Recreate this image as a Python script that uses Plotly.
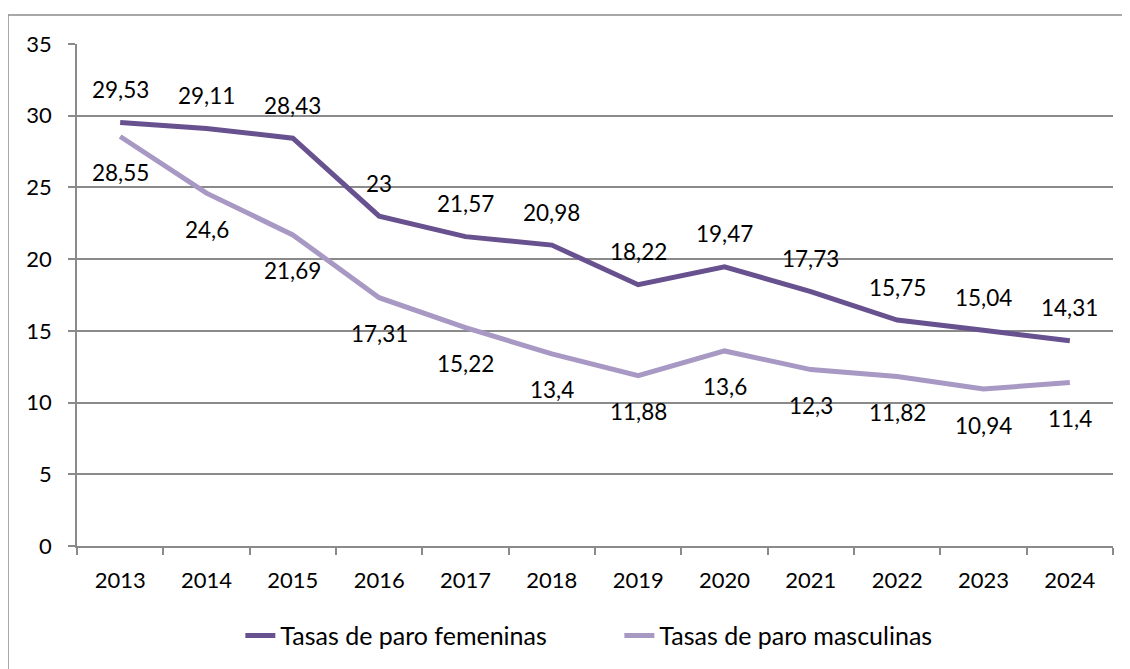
import plotly.graph_objects as go

years = ["2013", "2014", "2015", "2016", "2017", "2018", "2019", "2020", "2021", "2022", "2023", "2024"]
femeninas = [29.53, 29.11, 28.43, 23, 21.57, 20.98, 18.22, 19.47, 17.73, 15.75, 15.04, 14.31]
masculinas = [28.55, 24.6, 21.69, 17.31, 15.22, 13.4, 11.88, 13.6, 12.3, 11.82, 10.94, 11.4]
y_ticks = [0, 5, 10, 15, 20, 25, 30, 35]

C_FEM = "#68518f"
C_MAS = "#a799c3"
GRID = "#8a8a8a"
FONT = "Lato"

xi = list(range(len(years)))


def fmt(v):
    return f"{v:g}".replace(".", ",")


fig = go.Figure()
fig.add_trace(go.Scatter(x=xi, y=femeninas, mode="lines", name="Tasas de paro femeninas",
                         line=dict(color=C_FEM, width=5)))
fig.add_trace(go.Scatter(x=xi, y=masculinas, mode="lines", name="Tasas de paro masculinas",
                         line=dict(color=C_MAS, width=5)))

annotations = []
for x, v in zip(xi, femeninas):
    annotations.append(dict(x=x, y=v, text=fmt(v), showarrow=False, yshift=33,
                            xanchor="center", yanchor="middle",
                            font=dict(family=FONT, size=22.5, color="#000")))
for x, v in zip(xi, masculinas):
    annotations.append(dict(x=x, y=v, text=fmt(v), showarrow=False, yshift=-36,
                            xanchor="center", yanchor="middle",
                            font=dict(family=FONT, size=22.5, color="#000")))

fig.update_layout(
    width=1130, height=669,
    margin=dict(l=69, r=25, t=36, b=131),
    paper_bgcolor="white", plot_bgcolor="white",
    font=dict(family=FONT, size=22, color="#000"),
    annotations=annotations,
    showlegend=True,
    legend=dict(orientation="h", x=0.5235, xanchor="center", y=-0.179, yanchor="middle",
                font=dict(family=FONT, size=25, color="#000"), itemwidth=30,
                entrywidth=334, entrywidthmode="pixels", tracegroupgap=0),
    shapes=[dict(type="rect", xref="paper", yref="paper",
                 x0=-0.0666, x1=1.03, y0=-0.26, y1=1.0578,
                 line=dict(color="#8c8c8c", width=1.5), layer="below")],
)

fig.update_xaxes(range=[-0.5, len(years) - 0.5], tickmode="array", tickvals=xi, ticktext=years,
                 ticks="", showline=True, linecolor=GRID, linewidth=1.5,
                 showgrid=False, zeroline=False, ticklabelstandoff=14,
                 minor=dict(tickmode="linear", tick0=-0.5, dtick=1, ticks="outside", ticklen=7,
                            tickcolor=GRID, tickwidth=1.5, showgrid=False),
                 tickfont=dict(family=FONT, size=22, color="#000"))
fig.update_yaxes(range=[0, 35], tickvals=y_ticks, ticks="outside", ticklen=7,
                 tickcolor=GRID, tickwidth=1.5, showline=True, linecolor=GRID, linewidth=1.5,
                 showgrid=True, gridcolor=GRID, gridwidth=1.5, zeroline=False,
                 ticklabelstandoff=12,
                 tickfont=dict(family=FONT, size=22, color="#000"))

fig.write_html("out.html")
